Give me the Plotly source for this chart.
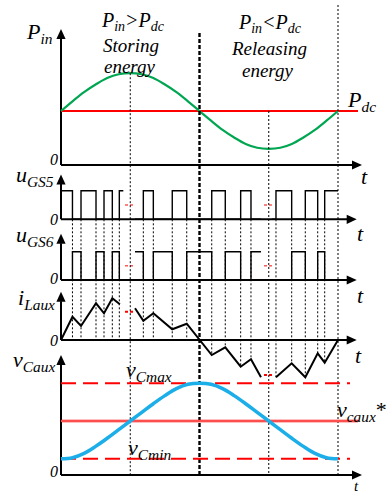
import numpy as np
import plotly.graph_objects as go

# ---------------------------------------------------------------- data ----
# line angle wt in degrees over one grid period
wt = list(range(0, 361, 15))
p_in = [1.00, 1.18, 1.35, 1.49, 1.61, 1.68, 1.70, 1.68, 1.61, 1.49, 1.35, 1.18, 1.00,
        0.82, 0.65, 0.51, 0.39, 0.32, 0.30, 0.32, 0.39, 0.51, 0.65, 0.82, 1.00]
p_dc = 1.0

v_caux = [0.30, 0.32, 0.40, 0.53, 0.68, 0.84, 1.00, 1.16, 1.32, 1.47, 1.60, 1.68, 1.70,
          1.68, 1.60, 1.47, 1.32, 1.16, 1.00, 0.84, 0.68, 0.53, 0.40, 0.32, 0.30]
v_ref = 1.0
v_cmax = 1.70
v_cmin = 0.30

# gate signals, drawn in three stretches (a skipped stretch around each quarter)
g_t_a = [0, 14.9, 26.0, 45.5, 55.9, 66.7, 75.8, 81.0]
g5_a = [1, 0, 1, 0, 1, 0, 1, 1]
g6_a = [0, 1, 0, 1, 0, 1, 0, 0]
g_t_b = [96.2, 107.0, 120.0, 144.6, 163.4, 195.9, 213.5, 233.5, 246.9, 259.9]
g5_b = [0, 1, 0, 1, 0, 1, 0, 1, 0, 0]
g6_b = [1, 0, 1, 0, 1, 0, 1, 0, 1, 1]
g_t_c = [274.0, 279.4, 299.8, 317.5, 333.6, 342.7, 360.0]
g5_c = [0, 1, 0, 1, 0, 1, 1]
g6_c = [0, 0, 1, 0, 1, 0, 0]

# auxiliary inductor current (vertices at the switching instants)
i_t_a = [0, 14.9, 26.0, 45.5, 55.9, 66.7, 76.5]
i_a = [0, 2.33, 1.40, 3.67, 2.67, 4.17, 3.57]
i_t_b = [96.2, 107.0, 120.0, 144.6, 163.4, 195.9, 213.5, 233.5, 246.9, 259.9]
i_b = [3.17, 1.93, 2.67, 1.07, 1.63, -1.50, -0.73, -2.67, -1.93, -3.73]
i_t_c = [279.4, 299.8, 317.5, 333.6, 342.7, 360.0]
i_c = [-3.73, -2.33, -3.73, -1.33, -2.27, 0]

# switching instants marked with dotted guides
edges = [14.9, 26.0, 45.5, 55.9, 66.7, 75.8, 107.0, 120.0, 144.6, 163.4,
         195.9, 213.5, 233.5, 246.9, 279.4, 299.8, 317.5, 333.6, 342.7]
# skipped stretches (red "continues" marks)
gap_t = [(83.2, 94.0), (263.8, 274.2)]
gap_i = [2.83, -3.50]

# -------------------------------------------------------------- layout ----
W, H = 387, 494
X0_PX, PERIOD_PX = 61, 277           # where wt = 0 sits, pixels per 360 deg
DEG_PER_PX = 360 / PERIOD_PX

# panel name -> (axis id, pixel row of zero, pixels per unit)
panels = {
    "P": ("y", 165.0, 54.0),
    "g5": ("y2", 219.3, 28.6),
    "g6": ("y3", 280.0, 28.3),
    "i": ("y4", 340.0, 10.0),
    "v": ("y5", 475.0, 54.0),
}


def px_of(name, val):
    _, z, k = panels[name]
    return z - val * k


def val_of(name, px):
    _, z, k = panels[name]
    return (z - px) / k


fig = go.Figure()
BLACK = "black"
RED = "#ff0000"
FONT = "Liberation Serif, Times New Roman, DejaVu Serif, serif"


def line(name, x, y, color=BLACK, width=1.5, dash=None, shape="linear"):
    fig.add_trace(go.Scatter(
        x=x, y=y, mode="lines", yaxis=panels[name][0], hoverinfo="skip",
        line=dict(color=color, width=width, dash=dash, shape=shape),
        showlegend=False))


def tri(name, xs, ys):
    fig.add_trace(go.Scatter(
        x=xs, y=ys, mode="lines", fill="toself", fillcolor=BLACK,
        line=dict(width=0, color=BLACK), yaxis=panels[name][0],
        hoverinfo="skip", showlegend=False))


def axes(name, top, right, length=10, half=4.6):
    k = panels[name][2]
    line(name, [0, 0], [0, top - length / k + 0.5 / k], width=2)
    line(name, [0, right - length * DEG_PER_PX + 0.5 * DEG_PER_PX], [0, 0], width=2)
    hx = half * DEG_PER_PX
    tri(name, [-hx, hx, 0, -hx], [top - length / k, top - length / k, top, top - length / k])
    dx = length * DEG_PER_PX
    tri(name, [right - dx, right, right - dx, right - dx], [half / k, 0, -half / k, half / k])


# dotted guides at the switching instants
i_t_all = i_t_a + i_t_b + i_t_c
i_all = i_a + i_b + i_c
g5_floor = val_of("i", px_of("g5", 0))
for e in edges:
    bottom = min(0.0, float(np.interp(e, i_t_all, i_all)))
    line("i", [e, e], [g5_floor, bottom], width=1, dash="2px,2px")

# long guides at the quarter points
v_top = lambda px: val_of("v", px)
line("v", [90, 90], [v_top(px_of("P", max(p_in))), 0], width=1, dash="2px,2px")
line("v", [270, 270], [v_top(px_of("P", p_dc)), 0], width=1, dash="2px,2px")
line("v", [360, 360], [v_top(5), 0], width=1, dash="2px,2px")
line("v", [180, 180], [v_top(33), 0], width=2.4, dash="4px,2px")

# axes with arrowheads
axes("P", 2.52, 391.2)
axes("g5", 1.57, 384.3)
axes("g6", 1.63, 384.3)
axes("i", 4.83, 384.3)
axes("v", 2.22, 391.2)

# input power and dc power
line("P", [0, 386], [p_dc, p_dc], color=RED, width=2)
line("P", wt, p_in, color="#00a651", width=2.2, shape="spline")

# gate signals
for t, g in ((g_t_a, g5_a), (g_t_b, g5_b), (g_t_c, g5_c)):
    line("g5", t, g, width=1.4, shape="hv")
for t, g in ((g_t_a, g6_a), (g_t_b, g6_b), (g_t_c, g6_c)):
    line("g6", t, g, width=1.4, shape="hv")

# inductor current
for t, c in ((i_t_a, i_a), (i_t_b, i_b), (i_t_c, i_c)):
    line("i", t, c, width=2)

# continuation marks in the skipped stretches
for (a, b), lvl in zip(gap_t, gap_i):
    line("g5", [a, b], [0.5, 0.5], color=RED, width=1, dash="3px,2px")
    line("g6", [a, b], [0.5, 0.5], color=RED, width=1, dash="3px,2px")
    line("i", [a, b], [lvl, lvl], color=RED, width=2, dash="3px,2px")

# capacitor voltage
line("v", [0, 375.6], [v_cmax, v_cmax], color=RED, width=2, dash="15px,7px")
line("v", [0, 375.6], [v_cmin, v_cmin], color=RED, width=2, dash="15px,7px")
line("v", [0, 386], [v_ref, v_ref], color=RED, width=2.4)
line("v", [0, 386], [v_ref, v_ref], color="#fbc4c4", width=0.8)
line("v", wt, v_caux, color="#1caee8", width=3.5, shape="spline")


# ---------------------------------------------------------------- text ----
def label(text, x, y, size, xanchor="left", yanchor="middle"):
    fig.add_annotation(
        text=text, x=x / W, y=1 - y / H, xref="paper", yref="paper",
        showarrow=False, xanchor=xanchor, yanchor=yanchor,
        font=dict(family=FONT, size=size, color=BLACK))


label("<i>P<sub>in</sub></i>", 24, 33, 22)
label("<i>P<sub>in</sub>&gt;P<sub>dc</sub></i>", 133, 21, 20, xanchor="center")
label("<i>Storing</i>", 131, 45, 19, xanchor="center")
label("<i>energy</i>", 130, 66, 19, xanchor="center")
label("<i>P<sub>in</sub>&lt;P<sub>dc</sub></i>", 270, 23, 20, xanchor="center")
label("<i>Releasing</i>", 269, 49, 19, xanchor="center")
label("<i>energy</i>", 268, 70, 19, xanchor="center")
label("<i>P<sub>dc</sub></i>", 345, 101, 22)

for yy in (160, 219, 278, 340, 471):
    label("<i>0</i>", 60, yy, 16, xanchor="right")
for xx, yy, s in ((364, 176, 22), (360, 234, 22), (360, 295, 22), (358, 355, 22), (356, 486, 15)):
    label("<i>t</i>", xx, yy, s, xanchor="center")

label("<i>u<sub>GS5</sub></i>", 14, 176, 22)
label("<i>u<sub>GS6</sub></i>", 14, 236, 22)
label("<i>i<sub>Laux</sub></i>", 16, 299, 22)
label("<i>v<sub>Caux</sub></i>", 11, 361, 22)
label("<i>v<sub>Cmax</sub></i>", 124, 371, 22)
label("<i>v<sub>Cmin</sub></i>", 126, 449, 22)
label("<i>v<sub>caux</sub></i>*", 335, 411, 22)

# ------------------------------------------------------------- figure -----
hidden = dict(visible=False, fixedrange=True)
xr = [-X0_PX * DEG_PER_PX, (W - X0_PX) * DEG_PER_PX]
lay = dict(
    width=W, height=H, autosize=False,
    margin=dict(l=0, r=0, t=0, b=0, pad=0),
    paper_bgcolor="white", plot_bgcolor="white",
    xaxis=dict(range=xr, **hidden),
)
for idx, (name, (ax, z, k)) in enumerate(panels.items()):
    rng = [(z - H) / k, z / k]
    key = "yaxis" if ax == "y" else "yaxis" + ax[1:]
    spec = dict(range=rng, **hidden)
    if ax != "y":
        spec["overlaying"] = "y"
    lay[key] = spec
fig.update_layout(**lay)

fig.write_html("out.html")
